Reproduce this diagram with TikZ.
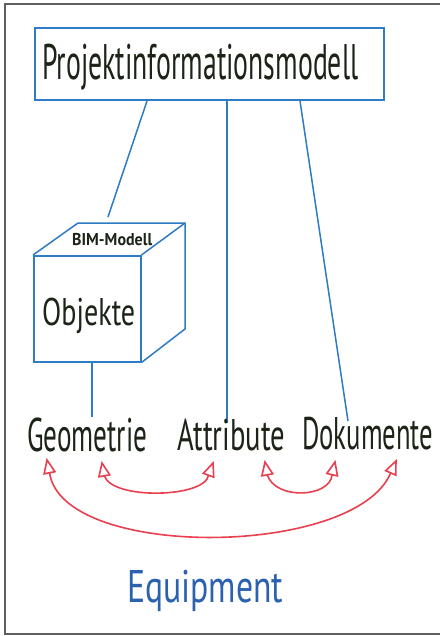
\documentclass[tikz,border=0pt]{standalone}
\usepackage{fontspec}
\setmainfont{PT Sans}
\usetikzlibrary{calc}
\definecolor{ink}{HTML}{1C2418}
\definecolor{lineblue}{HTML}{2F7BC4}
\definecolor{textblue}{HTML}{2A62B0}
\definecolor{arrowred}{HTML}{E8404F}
\definecolor{framegray}{HTML}{606060}
% width, cap height, text
\newcommand{\fitbox}[3]{\resizebox{#1pt}{#2pt}{\smash{#3}\vphantom{H}}}
% open triangle head: tip, point it comes from, name of its base coordinate
\newcommand{\opentri}[3]{%
  \path ($(#1)!13pt!(#2)$) coordinate (#3);
  \draw[redline, line join=miter] (#1) -- ($(#3)!5.5pt!90:(#1)$) -- ($(#3)!5.5pt!-90:(#1)$) -- cycle;}
\tikzset{
  blueline/.style={draw=lineblue, line width=1.5pt},
  lbl/.style={anchor=base west, inner sep=0pt, text=ink},
  redline/.style={draw=arrowred, line width=1.6pt},
}
\begin{document}
\begin{tikzpicture}[x=1pt,y=-1pt]
\useasboundingbox (0,0) rectangle (440,636);
\fill[white] (0,0) rectangle (440,636);
% frame
\draw[framegray, line width=1.5pt] (440,4) -- (5,4) -- (5,634) -- (440,634);

% top box
\node[draw=lineblue, line width=2pt, minimum width=349pt, minimum height=72pt,
      anchor=north west, inner sep=0pt] (pim) at (34,27) {};
\node[lbl] (pimtext) at (42,80) {\fitbox{316}{35}{Projektinformationsmodell}};

% cube
\node[draw=lineblue, line width=1.5pt, minimum width=107pt, minimum height=106pt,
      anchor=north west, inner sep=0pt] (cube) at (33,255) {};
\draw[blueline, line join=round] (cube.north west) -- ++(45,-32) coordinate (cubeback) -- ++(107,0) coordinate (cubebackr)
      -- ++(0,106) -- (cube.south east);
\draw[blueline] (cube.north east) -- (cubebackr);
\node[lbl, font=\bfseries] (bim) at (72,245) {\fitbox{80}{12}{BIM-Modell}};
\node[lbl] (obj) at (42,325) {\fitbox{93}{27}{Objekte}};

% line end points
\coordinate (cubetop) at ($(cubeback)+(30,-6)$);
\coordinate (attend) at (227,423);
\coordinate (dokend) at (348,421);

% connectors from top box
\draw[blueline] ($(pim.south west)+(113,0)$) -- (cubetop);
\draw[blueline] ($(pim.south west)+(193,0)$) -- (attend);
\draw[blueline] ($(pim.south west)+(266,0)$) -- (dokend);
\draw[blueline] ($(cube.south west)+(59,0)$) coordinate (cubebot) -- ++(0,54) coordinate (geoend);

% labels
\node[lbl] (geo) at (27,451) {\fitbox{120}{33}{Geometrie}};
\node[lbl] (att) at (177,450) {\fitbox{108}{31}{Attribute}};
\node[lbl] (dok) at (302,449) {\fitbox{131}{32}{Dokumente}};
\node[lbl, text=textblue] (equip) at (127,602) {\fitbox{156}{32}{Equipment}};

% arrow tips
\coordinate (g1) at (47,460);
\coordinate (g2) at (102,463);
\coordinate (a1) at (213,463);
\coordinate (a2) at (265,462);
\coordinate (d1) at (335,462);
\coordinate (d2) at (396,461);

% heads
\opentri{g1}{53,490}{g1b}
\opentri{d2}{384,488}{d2b}
\opentri{g2}{106,485}{g2b}
\opentri{a1}{205,485}{a1b}
\opentri{a2}{269,484}{a2b}
\opentri{d1}{330,484}{d1b}

% curves
\draw[redline] (g1b) .. controls (62,560) and (355,558) .. (d2b);
\draw[redline] (g2b) .. controls (112,500) and (205,498) .. (a1b);
\draw[redline] (a2b) .. controls (275,500) and (330,498) .. (d1b);
\end{tikzpicture}
\end{document}
